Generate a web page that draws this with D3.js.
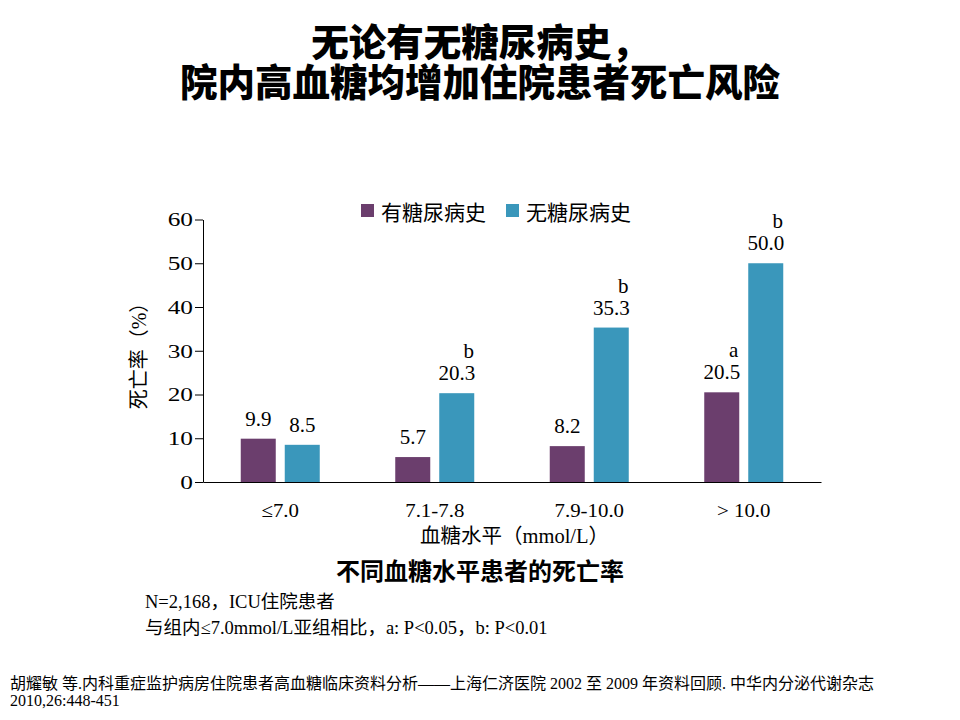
<!DOCTYPE html>
<html>
<head>
<meta charset="utf-8">
<script src="https://cdn.jsdelivr.net/npm/d3@7"></script>
<style>
  body { margin: 0; background: #fff; }
  svg { display: block; }
</style>
</head>
<body>
<svg width="960" height="720"></svg>
<script>
// data
const categories = ["≤7.0", "7.1-7.8", "7.9-10.0", "> 10.0"];
const seriesNames = ["有糖尿病史", "无糖尿病史"];
const withDiabetes = [9.9, 5.7, 8.2, 20.5];
const withoutDiabetes = [8.5, 20.3, 35.3, 50.0];
const sigWith = ["", "", "", "a"];
const sigWithout = ["", "b", "b", "b"];
const yTicks = [0, 10, 20, 30, 40, 50, 60];
const colors = ["#6b3e6d", "#3a97bb"];

const SERIF = '"Liberation Serif", "Times New Roman", "Noto Sans CJK SC", serif';
const SANS = '"Noto Sans CJK SC", "Liberation Sans", sans-serif';

const svg = d3.select("svg");
const margin = { top: 219.5, right: 139, bottom: 238, left: 203 };
const width = +svg.attr("width");
const height = +svg.attr("height");

// the source picture has its numbers drawn a bit wider
function stretch(sel, k) {
  sel.each(function () {
    const w = this.getComputedTextLength();
    this.setAttribute("textLength", w * k);
    this.setAttribute("lengthAdjust", "spacingAndGlyphs");
  });
}

// title, two lines in one text
const title = svg.append("text")
  .style("font-family", SANS)
  .attr("font-weight", 900).attr("font-size", 37.5).attr("fill", "#000")
  .attr("text-anchor", "middle");
title.append("tspan").attr("x", 480).attr("y", 56).text("无论有无糖尿病史，");
title.append("tspan").attr("x", 480).attr("y", 96).text("院内高血糖均增加住院患者死亡风险");

// scales
const x = d3.scaleBand()
  .domain(categories)
  .range([margin.left, width - margin.right]);

const y = d3.scaleLinear()
  .domain([0, 60])
  .range([height - margin.bottom, margin.top]);

const barW = 35, gap = 9;

// axes
const yAxis = svg.append("g")
  .attr("transform", `translate(${margin.left},0)`)
  .call(d3.axisLeft(y).tickValues(yTicks).tickSize(8).tickSizeOuter(0).tickPadding(2));
yAxis.selectAll("text").style("font-family", SERIF).attr("font-size", 19.5).attr("fill", "#000");
yAxis.selectAll("line, path").attr("stroke", "#000");
stretch(yAxis.selectAll("text"), 1.3);

const xAxis = svg.append("g")
  .attr("transform", `translate(0,${y(0)})`)
  .call(d3.axisBottom(x).tickSize(0).tickSizeOuter(0).tickPadding(21));
xAxis.selectAll("text").style("font-family", SERIF).attr("font-size", 19.5).attr("fill", "#000");
xAxis.select("path").attr("stroke", "#000");
stretch(xAxis.selectAll("text"), 1.07);

// bars
const rows = categories.map((c, i) => ({
  cat: c,
  vals: [
    { s: 0, v: withDiabetes[i], sig: sigWith[i] },
    { s: 1, v: withoutDiabetes[i], sig: sigWithout[i] }
  ]
}));

const barX = d => x(d.cat) + x.bandwidth() / 2 + (d.s === 0 ? -gap / 2 - barW : gap / 2);

const groups = svg.append("g").selectAll("g")
  .data(rows)
  .join("g");

groups.selectAll("rect")
  .data(r => r.vals.map(v => ({ ...v, cat: r.cat })))
  .join("rect")
  .attr("x", barX)
  .attr("y", d => y(d.v))
  .attr("width", barW)
  .attr("height", d => y(0) - y(d.v))
  .attr("fill", d => colors[d.s]);

groups.selectAll("text.val")
  .data(r => r.vals.map(v => ({ ...v, cat: r.cat })))
  .join("text")
  .attr("class", "val")
  .style("font-family", SERIF)
  .attr("x", d => barX(d) + barW / 2)
  .attr("y", d => y(d.v) - 13)
  .attr("text-anchor", "middle")
  .attr("font-size", 21)
  .text(d => d.v.toFixed(1));

groups.selectAll("text.sig")
  .data(r => r.vals.filter(v => v.sig).map(v => ({ ...v, cat: r.cat })))
  .join("text")
  .attr("class", "sig")
  .style("font-family", SERIF)
  .attr("x", d => barX(d) + barW / 2 + 12)
  .attr("y", d => y(d.v) - 35)
  .attr("text-anchor", "middle")
  .attr("font-size", 21)
  .text(d => d.sig);

// axis titles
svg.append("text")
  .style("font-family", SANS)
  .attr("transform", "translate(146,351) rotate(-90)")
  .attr("text-anchor", "middle")
  .attr("font-size", 20)
  .html(`死亡率<tspan style='font-family:${SERIF}'>（%）</tspan>`);

svg.append("text")
  .style("font-family", SANS)
  .attr("x", 420)
  .attr("y", 543)
  .attr("font-size", 20.5)
  .html(`血糖水平<tspan style='font-family:${SERIF}'>（mmol/L）</tspan>`);

// legend
const legend = svg.append("g").style("font-family", SANS);
const legendX = [361, 506];
seriesNames.forEach((name, i) => {
  legend.append("rect")
    .attr("x", legendX[i]).attr("y", 204)
    .attr("width", 13).attr("height", 13)
    .attr("fill", colors[i]);
  legend.append("text")
    .attr("x", legendX[i] + 20).attr("y", 219.5)
    .attr("font-size", 21)
    .text(name);
});

// caption and notes
svg.append("text")
  .style("font-family", SANS)
  .attr("x", 480).attr("y", 580)
  .attr("text-anchor", "middle")
  .attr("font-size", 24).attr("font-weight", 700)
  .text("不同血糖水平患者的死亡率");

const notes = svg.append("g").style("font-family", SERIF).attr("font-size", 18.5);
notes.append("text").attr("x", 145).attr("y", 608).text("N=2,168，ICU住院患者");
notes.append("text").attr("x", 145).attr("y", 634).text("与组内≤7.0mmol/L亚组相比，a: P<0.05，b: P<0.01");

const foot = svg.append("g").style("font-family", SERIF).attr("font-size", 16);
foot.append("text").attr("x", 10).attr("y", 689)
  .text("胡耀敏 等.内科重症监护病房住院患者高血糖临床资料分析——上海仁济医院 2002 至 2009 年资料回顾. 中华内分泌代谢杂志");
foot.append("text").attr("x", 10).attr("y", 706).text("2010,26:448-451");
</script>
</body>
</html>
